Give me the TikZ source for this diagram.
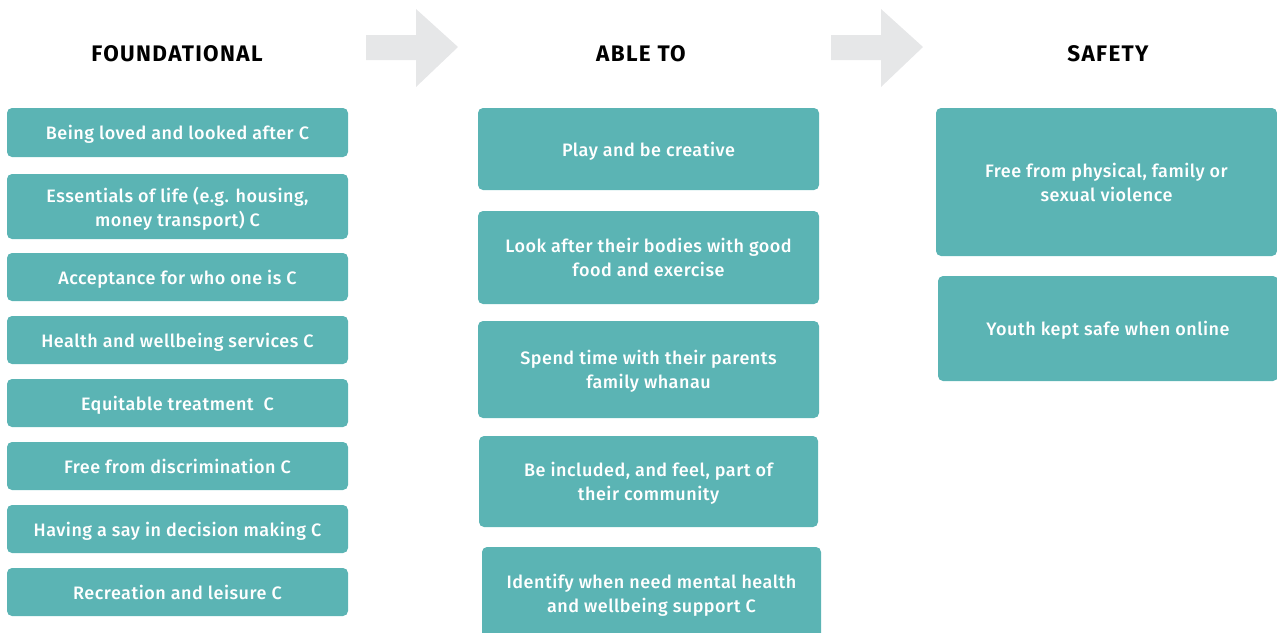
\documentclass[tikz,border=0pt]{standalone}
\usepackage{fontspec}
\setmainfont{Fira Sans}[UprightFont=* Medium, LetterSpace=2.8]
\newfontfamily\headfont{Fira Sans}[UprightFont=* Bold, LetterSpace=6]
\definecolor{boxteal}{HTML}{5BB4B4}
\definecolor{arrowgrey}{HTML}{E6E7E8}
\tikzset{
  box/.style={fill=boxteal, rounded corners=5pt, text=white, align=center, inner sep=0pt,
    text depth=0pt, font=\fontsize{18}{24}\selectfont},
  head/.style={font=\headfont\fontsize{22.5}{24}\selectfont, text=black, inner sep=0pt},
  bigarrow/.style={fill=arrowgrey, draw=none}
}
\begin{document}
\begin{tikzpicture}[x=1pt,y=-1pt]
\useasboundingbox (0,0) rectangle (1277,632);
\clip (0,0) rectangle (1277,632);
% headers
\node[head] (h1) at (177,54) {FOUNDATIONAL};
\node[head] (h2) at (641,54) {ABLE TO};
\node[head] (h3) at (1108,54) {SAFETY};
% arrows
\fill[bigarrow] (366,35) -- (416,35) -- (416,9) -- (458,47) -- (416,87) -- (416,60) -- (366,60) -- cycle;
\fill[bigarrow] (831,35) -- (881,35) -- (881,9) -- (923,47) -- (881,87) -- (881,60) -- (831,60) -- cycle;
% foundational column
\node[box, minimum width=341pt, minimum height=49pt] (f1) at (177.5,132.5) {Being loved and looked after C};
\node[box, minimum width=341pt, minimum height=65pt] (f2) at (177.5,206.5) {Essentials of life (e.g. housing,\\money transport) C};
\node[box, minimum width=341pt, minimum height=48pt] (f3) at (177.5,277) {Acceptance for who one is C};
\node[box, minimum width=341pt, minimum height=48pt] (f4) at (177.5,340) {Health and wellbeing services C};
\node[box, minimum width=341pt, minimum height=48pt] (f5) at (177.5,403) {Equitable treatment\ \ C};
\node[box, minimum width=341pt, minimum height=48pt] (f6) at (177.5,466) {Free from discrimination C};
\node[box, minimum width=341pt, minimum height=48pt] (f7) at (177.5,529) {Having a say in decision making C};
\node[box, minimum width=341pt, minimum height=48pt] (f8) at (177.5,592) {Recreation and leisure C};
% able to column
\node[box, minimum width=341pt, minimum height=82pt] (a1) at (648.5,149) {Play and be creative};
\node[box, minimum width=341pt, minimum height=93pt] (a2) at (648.5,257.5) {Look after their bodies with good\\food and exercise};
\node[box, minimum width=341pt, minimum height=97pt] (a3) at (648.5,369.5) {Spend time with their parents\\family whanau};
\node[box, minimum width=339pt, minimum height=91pt] (a4) at (648.5,481.5) {Be included, and feel, part of\\their community};
\node[box, minimum width=339pt, minimum height=92pt] (a5) at (651.5,593) {Identify when need mental health\\and wellbeing support C};
% safety column
\node[box, minimum width=341pt, minimum height=148pt] (s1) at (1106.5,182) {Free from physical, family or\\sexual violence};
\node[box, minimum width=340pt, minimum height=105pt] (s2) at (1108,328.5) {Youth kept safe when online};
\end{tikzpicture}
\end{document}
